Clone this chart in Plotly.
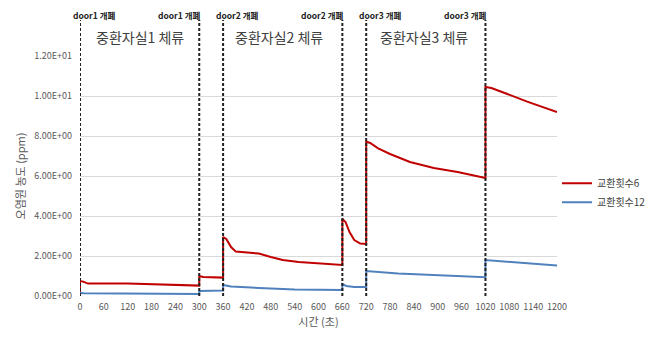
import plotly.graph_objects as go

# ---- data ----
red_t = [0, 0, 8, 20, 120, 200, 300, 300, 310, 360, 360, 368, 380, 392, 420, 450, 480, 510, 550, 600, 660,
         660, 668, 678, 690, 705, 720, 720, 730, 750, 780, 830, 890, 950, 1020, 1020, 1035, 1075, 1125, 1200]
red_v = [0.12, 0.75, 0.72, 0.62, 0.62, 0.57, 0.52, 1.0, 0.95, 0.92, 2.95, 2.85, 2.45, 2.22, 2.17, 2.12, 1.95, 1.8, 1.7, 1.63, 1.55,
         3.85, 3.7, 3.2, 2.8, 2.62, 2.6, 7.72, 7.65, 7.38, 7.1, 6.7, 6.4, 6.2, 5.9, 10.45, 10.4, 10.1, 9.72, 9.2]

blue_t = [0, 0, 10, 100, 300, 300, 360, 360, 380, 450, 540, 660, 660, 670, 690, 720, 720, 800, 900, 1020, 1020, 1100, 1200]
blue_v = [0.1, 0.15, 0.14, 0.12, 0.1, 0.25, 0.27, 0.55, 0.47, 0.4, 0.33, 0.3, 0.6, 0.5, 0.45, 0.45, 1.25, 1.13, 1.03, 0.94, 1.8, 1.68, 1.52]

door_times = [0, 300, 360, 660, 720, 1020]
door_labels = ["door1 개폐", "door1 개폐", "door2 개폐", "door2 개폐", "door3 개폐", "door3 개폐"]
room_labels = ["중환자실1 체류", "중환자실2 체류", "중환자실3 체류"]
room_centers = [150, 500, 865]

x_ticks = list(range(0, 1201, 60))
y_ticks = [0, 2, 4, 6, 8, 10, 12]
y_ticktext = [f"{v:.2E}" for v in y_ticks]

series_names = ["교환횟수6", "교환횟수12"]

FONT = "Noto Sans CJK KR"

fig = go.Figure()
fig.add_trace(go.Scatter(x=red_t, y=red_v, mode="lines", name=series_names[0],
                         line=dict(color="#C00000", width=2)))
fig.add_trace(go.Scatter(x=blue_t, y=blue_v, mode="lines", name=series_names[1],
                         line=dict(color="#4F81BD", width=2)))

for t in door_times:
    fig.add_shape(type="line", xref="x", yref="paper", x0=t, x1=t, y0=0, y1=1.15,
                  line=dict(color="#222222", width=2, dash="3px,2px"))

for i, (t, lab) in enumerate(zip(door_times, door_labels)):
    is_open = (i % 2 == 0)
    fig.add_annotation(x=t, y=1.2, xref="x", yref="paper", text="<b>" + lab + "</b>", showarrow=False,
                       font=dict(family=FONT, size=8.5, color="#222222"), borderpad=0,
                       xanchor="left" if is_open else "right",
                       xshift=-8 if is_open else 3, yanchor="top")

for c, lab in zip(room_centers, room_labels):
    fig.add_annotation(x=c, y=1.08, xref="x", yref="paper", text=lab, showarrow=False,
                       font=dict(family=FONT, size=14, color="#404040"), xanchor="center", yanchor="middle")

fig.update_layout(
    width=650, height=330,
    margin=dict(l=72, r=101, t=48, b=42, autoexpand=False),
    paper_bgcolor="white", plot_bgcolor="white",
    font=dict(family=FONT, size=10, color="#595959"),
    showlegend=True,
    legend=dict(x=1.0, y=0.43, xanchor="left", yanchor="middle",
                font=dict(family=FONT, size=10, color="#404040"),
                bgcolor="rgba(0,0,0,0)", tracegroupgap=4, itemwidth=30),
)
fig.update_xaxes(range=[0, 1200], tickmode="array", tickvals=x_ticks, tickangle=0,
                 showgrid=False, zeroline=False, showline=False, ticks="", automargin=False,
                 ticklabelstandoff=4,
                 tickfont=dict(size=9, color="#595959"),
                 title=dict(text="시간 (초)", font=dict(size=11, color="#595959"), standoff=6))
fig.update_yaxes(range=[0, 12], tickmode="array", tickvals=y_ticks, ticktext=y_ticktext,
                 showgrid=True, gridcolor="#D9D9D9", gridwidth=1, zeroline=False, showline=False,
                 ticks="", automargin=False, ticklabelstandoff=7, tickfont=dict(size=9, color="#595959"),
                 title=dict(text="오염원 농도 (ppm)", font=dict(size=11, color="#595959"), standoff=6))

fig.write_html("out.html")
